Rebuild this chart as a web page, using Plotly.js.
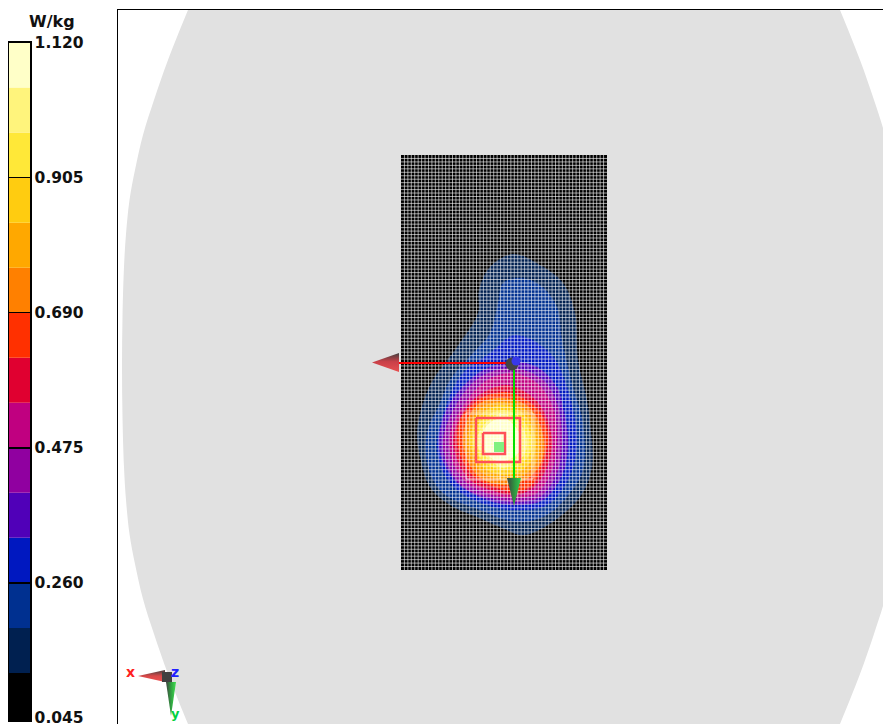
<!DOCTYPE html>
<html><head><meta charset="utf-8">
<script src="https://cdn.plot.ly/plotly-3.0.1.min.js"></script>
<style>html,body{margin:0;padding:0;background:#fff;overflow:hidden}
#chart .gridlayer path{shape-rendering:auto !important}</style></head>
<body><div id="chart" style="width:883px;height:724px"></div>
<script>
// Colour scale (W/kg)
const bandBase = [0.040,0.1167,0.1883,0.2600,0.3317,0.4033,0.4750,0.5467,0.6183,0.6900,0.7617,0.8333,0.9050,0.9767,1.0483];
const bandTop  = [0.1167,0.1883,0.2600,0.3317,0.4033,0.4750,0.5467,0.6183,0.6900,0.7617,0.8333,0.9050,0.9767,1.0483,1.1200];
const bandColors = ['#000000','#002050','#003090','#0018c0','#5000b8','#9000a0','#c00080','#e00030','#ff3000','#ff8000','#ffa800','#ffcc10','#ffe838','#fff47c','#ffffc8'];
const tickValues = [0.045,0.260,0.475,0.690,0.905,1.120];
const tickLabels = ['0.045','0.260','0.475','0.690','0.905','1.120'];

// Phantom outline
const phantomX = [205,188,168,154,143,135,129.5,126,124,122.5,122,122.5,124,126,129.5,135,143,154,168,188,205,823,840,860,874,885,893,898.5,902,904,905.5,906,905.5,904,902,898.5,893,885,874,860,840,823];
const phantomY = [-30,10,60,100,135,170,200,234,267,317,367,417,467,500,534,564,599,634,674,724,764,764,724,674,634,599,564,534,500,467,417,367,317,267,234,200,170,135,100,60,10,-30];

// Scan area
const scanX = [401,607,607,401];
const scanY = [155,155,570,570];

// Iso-value outlines, one per level above the lowest band
const iso1x = [513,540,563,575,578,587,590,592,580,543,522,500,477,450,430,420,417,423,433,457,478,479,490];
const iso1y = [254,265,283,313,360,400,423,467,497,528,535,527,517,505,487,457,433,403,380,347,313,290,267];
const iso2x = [520,540,557,562,573,583,583,570,547,517,480,443,428,427,440,450,473,490,498,503];
const iso2y = [278,285,307,340,387,423,470,493,515,522,510,493,467,433,403,380,353,333,303,283];
const iso3x = [515,550,567,577,568,547,513,487,457,442,437,447,463,490];
const iso3y = [335,353,387,443,480,505,510,505,490,470,443,403,373,353];
const iso4x = [513,537,557,563,568,563,543,513,487,457,440,440,450,480];
const iso4y = [362,367,387,407,440,473,500,505,500,483,453,430,403,372];
const iso5x = [513,543,557,562,557,540,515,490,463,447,443,457,480];
const iso5y = [368,380,403,440,473,497,502,498,487,463,440,403,377];
const iso6x = [513,537,553,557,552,537,515,493,467,452,450,465,487];
const iso6y = [373,383,407,440,470,493,498,495,483,460,433,403,380];
const iso7x = [505,530,543,552,547,533,515,497,470,455,455,473];
const iso7y = [385,395,410,440,467,488,495,492,480,453,430,400];
const iso8x = [505,523,540,548,543,532,515,497,472,458,460,467,483];
const iso8y = [392,398,412,437,463,485,492,488,475,447,420,410,397];
const iso9x = [503,530,544,540,525,503,478,463,468,480];
const iso9y = [398,408,440,465,480,485,476,445,418,403];
const iso10x = [503,527,540,536,522,503,481,467,472,482];
const iso10y = [402,411,440,463,476,480,472,445,420,407];
const iso11x = [503,524,536,532,519,503,484,470,475,485];
const iso11y = [405,414,440,460,472,475,468,444,422,411];
const iso12x = [503,521,532,528,516,503,487,473,478,488];
const iso12y = [410,418,440,457,467,470,464,444,425,415];
const iso13x = [503,518,527,524,513,503,490,476,482,490];
const iso13y = [414,421,440,455,464,468,460,443,428,419];
const iso14x = [503,514,521,519,510,500,489,481,484,491];
const iso14y = [418,425,440,452,459,462,456,442,430,422];
const isoXs = [iso1x,iso2x,iso3x,iso4x,iso5x,iso6x,iso7x,iso8x,iso9x,iso10x,iso11x,iso12x,iso13x,iso14x];
const isoYs = [iso1y,iso2y,iso3y,iso4y,iso5y,iso6y,iso7y,iso8y,iso9y,iso10y,iso11y,iso12y,iso13y,iso14y];

// Axis triad
const xAxisLineX = [513,399];
const xAxisLineY = [363,363];
const yAxisLineX = [514,514];
const yAxisLineY = [363,478];
const xConeX = [399,372,399];
const xConeY = [353,362.5,372];
const yConeX = [507,514,521];
const yConeY = [478,506,478];

// Peak cube markers
const outerBoxX = [476,520,520,476,476];
const outerBoxY = [418,418,462,462,418];
const innerBoxX = [483,505,505,483,483];
const innerBoxY = [433,433,454,454,433];
const peakX = [494,504,504,494];
const peakY = [442,442,452,452];
const zoomBoxX = [466,533,533,466,466,null,500,500];
const zoomBoxY = [413,413,479,479,413,null,413,479];

// Small orientation triad
const miniXConeX = [138,165,165];
const miniXConeY = [676,670,682];
const miniYConeX = [166,176,171];
const miniYConeY = [682,682,716];

const traces = [];
const closed = a => a.concat([a[0]]);
traces.push({type:'scatter',mode:'lines',x:phantomX,y:phantomY,fill:'toself',fillcolor:'#e1e1e1',
  line:{width:0,shape:'spline',smoothing:1},hoverinfo:'skip'});
traces.push({type:'scatter',mode:'lines',x:scanX,y:scanY,fill:'toself',fillcolor:bandColors[0],line:{width:0},hoverinfo:'skip'});
isoXs.forEach((xs,i)=>traces.push({type:'scatter',mode:'lines',x:closed(xs),y:closed(isoYs[i]),fill:'toself',
  fillcolor:bandColors[i+1],line:{width:0,shape:'spline',smoothing:1},hoverinfo:'skip'}));

// Colour bar
traces.push({type:'bar',x:bandColors.map(()=>0),y:bandTop.map((t,i)=>t-bandBase[i]),base:bandBase,width:1,
  marker:{color:bandColors,line:{width:0}},xaxis:'x2',yaxis:'y2',hoverinfo:'skip'});

// Grid subplot carrier
traces.push({type:'scatter',mode:'markers',x:[0],y:[0],marker:{size:1,opacity:0},xaxis:'x3',yaxis:'y3',hoverinfo:'skip'});

const over = {xaxis:'x4',yaxis:'y4',hoverinfo:'skip',type:'scatter'};
traces.push({...over,mode:'lines',x:zoomBoxX,y:zoomBoxY,line:{color:'rgba(255,255,255,0.7)',width:1}});
traces.push({...over,mode:'lines',x:outerBoxX,y:outerBoxY,line:{color:'#ff5058',width:2.5}});
traces.push({...over,mode:'lines',x:innerBoxX,y:innerBoxY,line:{color:'#ff5058',width:2.5}});
traces.push({...over,mode:'lines',x:closed(peakX),y:closed(peakY),fill:'toself',fillcolor:'#80f080',line:{width:0}});
traces.push({...over,mode:'lines',x:xAxisLineX,y:xAxisLineY,line:{color:'#ff0000',width:2}});
traces.push({...over,mode:'lines',x:yAxisLineX,y:yAxisLineY,line:{color:'#00e000',width:2}});
traces.push({...over,mode:'lines',x:closed(xConeX),y:closed(xConeY),fill:'toself',line:{width:0},
  fillgradient:{type:'vertical',colorscale:[[0,'#e85050'],[0.55,'#c84048'],[1,'#404040']]}});
traces.push({...over,mode:'lines',x:closed(yConeX),y:closed(yConeY),fill:'toself',line:{width:0},
  fillgradient:{type:'horizontal',colorscale:[[0,'#404040'],[0.5,'#309040'],[1,'#30d050']]}});
traces.push({...over,mode:'markers',x:[512],y:[364],marker:{size:13,color:'#444444',line:{width:0}}});
traces.push({...over,mode:'markers',x:[516],y:[361],marker:{size:9,color:'#3838e8',line:{width:0}}});
traces.push({...over,mode:'lines',x:closed(miniXConeX),y:closed(miniXConeY),fill:'toself',line:{width:0},
  fillgradient:{type:'vertical',colorscale:[[0,'#f05050'],[0.5,'#d84848'],[1,'#404040']]}});
traces.push({...over,mode:'lines',x:closed(miniYConeX),y:closed(miniYConeY),fill:'toself',line:{width:0},
  fillgradient:{type:'horizontal',colorscale:[[0,'#404040'],[0.5,'#30a040'],[1,'#40e050']]}});
traces.push({...over,mode:'markers',x:[167],y:[677],marker:{symbol:'square',size:10,color:'#404040',line:{width:0}}});

const W=883,H=724;
const gridCol = 'rgba(255,255,255,0.6)';
const layout = {
  width:W,height:H,margin:{l:0,r:0,t:0,b:0,pad:0},paper_bgcolor:'#ffffff',plot_bgcolor:'rgba(0,0,0,0)',
  showlegend:false,barmode:'overlay',
  xaxis:{domain:[118/W,1],range:[118,883],side:'top',showline:true,linecolor:'#000',linewidth:1.5,showgrid:false,zeroline:false,showticklabels:false,ticks:''},
  yaxis:{domain:[0,1-10/H],range:[724,10],showline:true,linecolor:'#000',linewidth:1.5,showgrid:false,zeroline:false,showticklabels:false,ticks:''},
  xaxis2:{domain:[9/W,30/W],range:[-0.5,0.5],anchor:'y2',showline:true,mirror:true,linecolor:'#000',linewidth:1.5,showgrid:false,zeroline:false,showticklabels:false,ticks:''},
  yaxis2:{domain:[(H-720)/H,(H-42.5)/H],range:[0.0418,1.12],anchor:'x2',side:'right',showline:true,mirror:true,linecolor:'#000',linewidth:1.5,
    showgrid:false,zeroline:false,tickmode:'array',tickvals:tickValues,ticktext:tickLabels,ticks:'inside',ticklen:21,tickwidth:1.5,tickcolor:'#000',
    ticklabeloverflow:'allow',tickfont:{family:'DejaVu Sans',size:15.5,color:'#111',weight:'bold'}},
  xaxis3:{domain:[401/W,607/W],range:[0,60],anchor:'y3',showgrid:true,gridcolor:gridCol,gridwidth:1,tick0:0,dtick:1,zeroline:false,showticklabels:false,ticks:'',showline:false},
  yaxis3:{domain:[(H-570)/H,(H-155)/H],range:[0,120],anchor:'x3',showgrid:true,gridcolor:gridCol,gridwidth:1,tick0:0,dtick:1,zeroline:false,showticklabels:false,ticks:'',showline:false},
  xaxis4:{domain:[118/W,1],range:[118,883],anchor:'y4',visible:false},
  yaxis4:{domain:[0,1-10/H],range:[724,10],anchor:'x4',visible:false},
  annotations:[
    {text:'W/kg',xref:'paper',yref:'paper',x:52/W,y:1-21/H,xanchor:'center',yanchor:'middle',showarrow:false,font:{family:'DejaVu Sans',size:16,color:'#111',weight:'bold'}},
    {text:'x',xref:'paper',yref:'paper',x:130/W,y:1-672/H,xanchor:'center',yanchor:'middle',showarrow:false,font:{family:'DejaVu Sans',size:14,color:'#ff2020',weight:'bold'}},
    {text:'z',xref:'paper',yref:'paper',x:175/W,y:1-672/H,xanchor:'center',yanchor:'middle',showarrow:false,font:{family:'DejaVu Sans',size:14,color:'#2020ff',weight:'bold'}},
    {text:'y',xref:'paper',yref:'paper',x:175/W,y:1-713/H,xanchor:'center',yanchor:'middle',showarrow:false,font:{family:'DejaVu Sans',size:13,color:'#00d040',weight:'bold'}}
  ]
};
Plotly.newPlot('chart',traces,layout,{displayModeBar:false,staticPlot:true});
</script></body></html>
